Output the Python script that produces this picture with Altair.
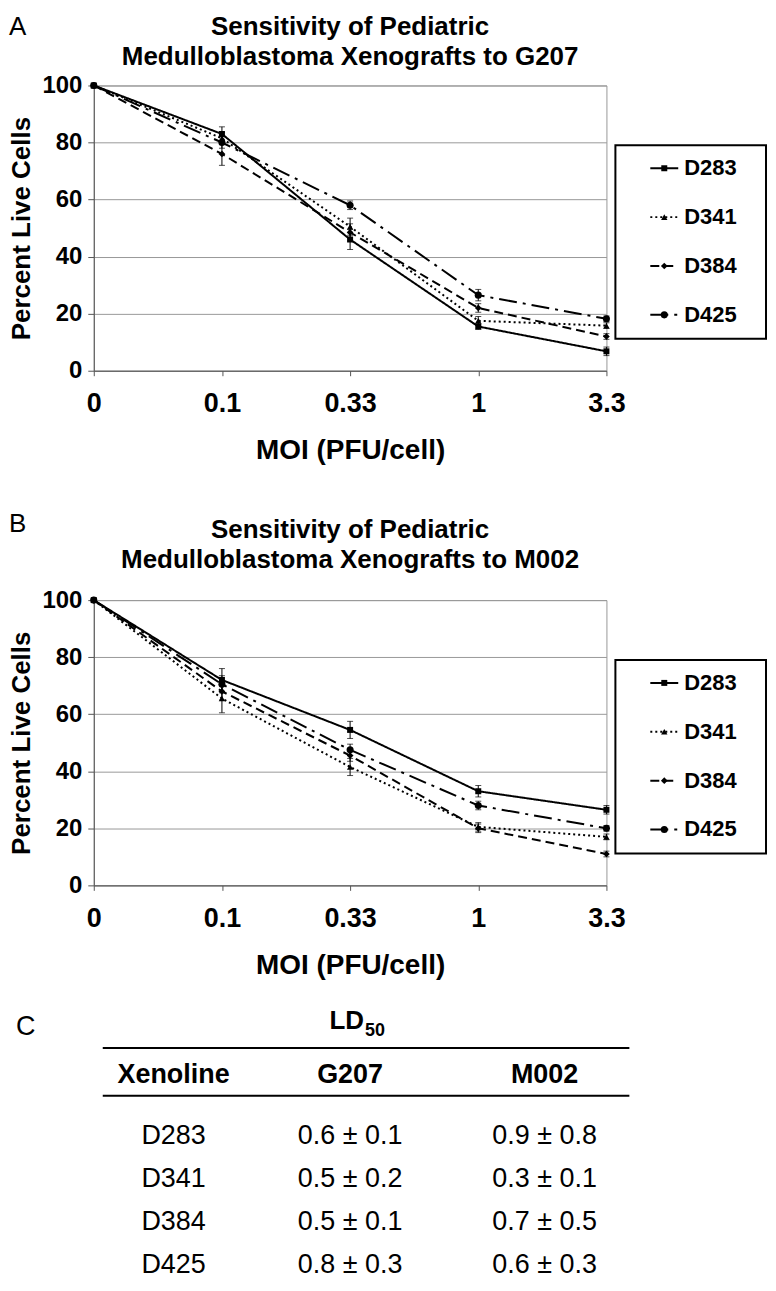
import altair as alt
import pandas as pd

FONT = "Liberation Sans"

moi_labels = ["0", "0.1", "0.33", "1", "3.3"]
series = ["D283", "D341", "D384", "D425"]

# Panel A: G207
g207_d283 = [100, 83, 46, 15.5, 6.8]
g207_d341 = [100, 81.5, 50.5, 17.5, 15.8]
g207_d384 = [100, 76, 48.5, 22, 12]
g207_d425 = [100, 80, 58, 26.5, 18.2]
g207_err_d283 = [0, 2.5, 3.5, 1, 1.5]
g207_err_d341 = [0, 2, 3, 1.5, 1]
g207_err_d384 = [0, 4, 3, 1.5, 1]
g207_err_d425 = [0, 2, 1.5, 2, 1]

# Panel B: M002
m002_d283 = [100, 72, 54.5, 33, 26.5]
m002_d341 = [100, 65.5, 41.5, 20.5, 17]
m002_d384 = [100, 68, 45.5, 20, 11]
m002_d425 = [100, 70.5, 47.5, 28, 20]
m002_err_d283 = [0, 4, 3, 2, 1.5]
m002_err_d341 = [0, 5, 3, 1.5, 1]
m002_err_d384 = [0, 3, 2, 1.5, 1]
m002_err_d425 = [0, 3, 2, 1.5, 1]

# Panel C: LD50 table
table_headers = ["Xenoline", "G207", "M002"]
xenolines = ["D283", "D341", "D384", "D425"]
ld50_g207 = ["0.6 ± 0.1", "0.5 ± 0.2", "0.5 ± 0.1", "0.8 ± 0.3"]
ld50_m002 = ["0.9 ± 0.8", "0.3 ± 0.1", "0.7 ± 0.5", "0.6 ±  0.3"]

dashes = [[1, 0], [2, 3], [9, 5], [18, 6, 3, 6]]
shapes = ["square", "triangle-up", "diamond", "circle"]
sizes = [36, 50, 40, 100]

W, H = 514, 286


def panel(vals, errs, letter, drug, letter_y, title_y):
    rows = []
    for s, v, e in zip(series, vals, errs):
        for m, yv, er in zip(moi_labels, v, e):
            rows.append({"series": s, "moi": m, "pct": yv, "lo": yv - er, "hi": yv + er, "err": er})
    df = pd.DataFrame(rows)

    xax = alt.Axis(grid=False, labelFontSize=27, labelPadding=15, tickSize=5,
                   titleFontSize=28, titlePadding=20, labelAngle=0)
    x = alt.X("moi:O", sort=moi_labels, scale=alt.Scale(type="point", padding=0),
              axis=xax, title="MOI (PFU/cell)")
    yax = alt.Axis(values=[0, 20, 40, 60, 80, 100], labelFontSize=24, labelPadding=6,
                   tickSize=6, titleFontSize=26, titlePadding=7, grid=True)
    ysc = alt.Scale(domain=[0, 100], nice=False)

    def Y(field):
        return alt.Y(field, scale=ysc, axis=yax, title="Percent Live Cells")

    dash = alt.StrokeDash("series:N", scale=alt.Scale(domain=series, range=dashes), legend=None)
    shape = alt.Shape("series:N", scale=alt.Scale(domain=series, range=shapes), legend=None)
    size = alt.Size("series:N", scale=alt.Scale(domain=series, range=sizes), legend=None)

    base = alt.Chart(df)
    lines = base.mark_line(color="black", strokeWidth=2).encode(
        x=x, y=Y("pct:Q"), strokeDash=dash, detail="series:N")
    ebase = base.transform_filter("datum.err > 0")
    ebar = ebase.mark_rule(color="black", strokeWidth=1).encode(x=x, y=Y("lo:Q"), y2="hi:Q")
    cap_lo = ebase.mark_tick(color="black", thickness=1, size=6).encode(x=x, y=Y("lo:Q"))
    cap_hi = ebase.mark_tick(color="black", thickness=1, size=6).encode(x=x, y=Y("hi:Q"))
    pts = base.mark_point(filled=True, color="black", opacity=1).encode(
        x=x, y=Y("pct:Q"), shape=shape, size=size)
    main = alt.layer(lines, ebar, cap_lo, cap_hi, pts)

    leg_df = pd.DataFrame({"series": series})
    ly = alt.Y("series:N", sort=series,
               scale=alt.Scale(type="point", domain=series, range=[83, 230], padding=0),
               axis=None)
    one = pd.DataFrame({"a": [0]})
    box = alt.Chart(one).mark_rect(fill="white", stroke="black", strokeWidth=2).encode(
        x=alt.value(523), x2=alt.value(674), y=alt.value(60), y2=alt.value(254))
    leg_lines = alt.Chart(leg_df).mark_rule(color="black", strokeWidth=2).encode(
        x=alt.value(558), x2=alt.value(586), y=ly, strokeDash=dash)
    leg_pts = alt.Chart(leg_df).mark_point(filled=True, color="black", opacity=1).encode(
        x=alt.value(572), y=ly, shape=shape, size=size)
    leg_txt = alt.Chart(leg_df).mark_text(align="left", baseline="middle", fontSize=22,
                                          fontWeight="bold", font=FONT, color="black").encode(
        x=alt.value(592), y=ly, text="series:N")
    legend = alt.layer(box, leg_lines, leg_pts, leg_txt)

    ttl_df = pd.DataFrame({"t": ["Sensitivity of Pediatric\nMedulloblastoma Xenografts to " + drug]})
    ttl = alt.Chart(ttl_df).mark_text(align="center", baseline="alphabetic", fontSize=26,
                                      fontWeight="bold", font=FONT, lineBreak="\n",
                                      lineHeight=30, color="black").encode(
        x=alt.value(W / 2), y=alt.value(title_y), text="t:N")
    let_df = pd.DataFrame({"t": [letter]})
    let = alt.Chart(let_df).mark_text(align="left", baseline="alphabetic", fontSize=26,
                                      font=FONT, color="black").encode(
        x=alt.value(-85), y=alt.value(letter_y), text="t:N")

    return alt.layer(main, legend, ttl, let).resolve_scale(y="independent").properties(
        width=W, height=H)


panelA = panel([g207_d283, g207_d341, g207_d384, g207_d425],
               [g207_err_d283, g207_err_d341, g207_err_d384, g207_err_d425], "A", "G207", -51, -51)
panelB = panel([m002_d283, m002_d341, m002_d384, m002_d425],
               [m002_err_d283, m002_err_d341, m002_err_d384, m002_err_d425], "B", "M002", -68, -62)

# Table C
TH = 276
one = pd.DataFrame({"a": [0]})
c_lbl = alt.Chart(pd.DataFrame({"t": ["C"]})).mark_text(
    align="left", baseline="alphabetic", fontSize=27, font=FONT, color="black").encode(
    x=alt.value(-78), y=alt.value(35), text="t:N")
ld = alt.Chart(pd.DataFrame({"t": ["LD"]})).mark_text(
    align="right", baseline="alphabetic", fontSize=26, fontWeight="bold", font=FONT,
    color="black").encode(x=alt.value(271), y=alt.value(29), text="t:N")
ld_sub = alt.Chart(pd.DataFrame({"t": ["50"]})).mark_text(
    align="left", baseline="alphabetic", fontSize=18, fontWeight="bold", font=FONT,
    color="black").encode(x=alt.value(272), y=alt.value(36), text="t:N")
rule1 = alt.Chart(one).mark_rule(color="black", strokeWidth=2).encode(
    x=alt.value(9), x2=alt.value(537), y=alt.value(48))
rule2 = alt.Chart(one).mark_rule(color="black", strokeWidth=2).encode(
    x=alt.value(9), x2=alt.value(537), y=alt.value(96))

col_x = [80, 257, 452]
hdr_layers = []
for h, cx in zip(table_headers, col_x):
    hdr_layers.append(alt.Chart(pd.DataFrame({"t": [h]})).mark_text(
        align="center", baseline="alphabetic", fontSize=27, fontWeight="bold", font=FONT,
        color="black").encode(x=alt.value(cx), y=alt.value(83), text="t:N"))

tdf = pd.DataFrame({"row": xenolines, "Xenoline": xenolines, "G207": ld50_g207, "M002": ld50_m002})
ry = alt.Y("row:N", sort=xenolines,
           scale=alt.Scale(type="point", domain=xenolines, range=[136, 266], padding=0), axis=None)
cell_layers = []
for h, cx in zip(table_headers, col_x):
    cell_layers.append(alt.Chart(tdf).mark_text(
        align="center", baseline="middle", fontSize=27, font=FONT, color="black").encode(
        x=alt.value(cx), y=ry, text=f"{h}:N"))

tableC = alt.layer(c_lbl, ld, ld_sub, rule1, rule2, *hdr_layers, *cell_layers).properties(
    width=W, height=TH, view=alt.ViewBackground(strokeOpacity=0))

top = alt.vconcat(panelA, panelB, spacing=45)
chart = alt.vconcat(top, tableC, spacing=20).properties(
    padding={"top": 3, "bottom": 2, "left": 0, "right": 0}
).configure(font=FONT).configure_view(stroke="#999999", strokeWidth=1).configure_axis(
    domainColor="#555555", tickColor="#555555", gridColor="#999999",
    labelFont=FONT, titleFont=FONT, labelFontWeight="bold", titleFontWeight="bold",
    labelColor="black", titleColor="black")

chart.save("out.html", embed_options={"renderer": "svg", "actions": False})
